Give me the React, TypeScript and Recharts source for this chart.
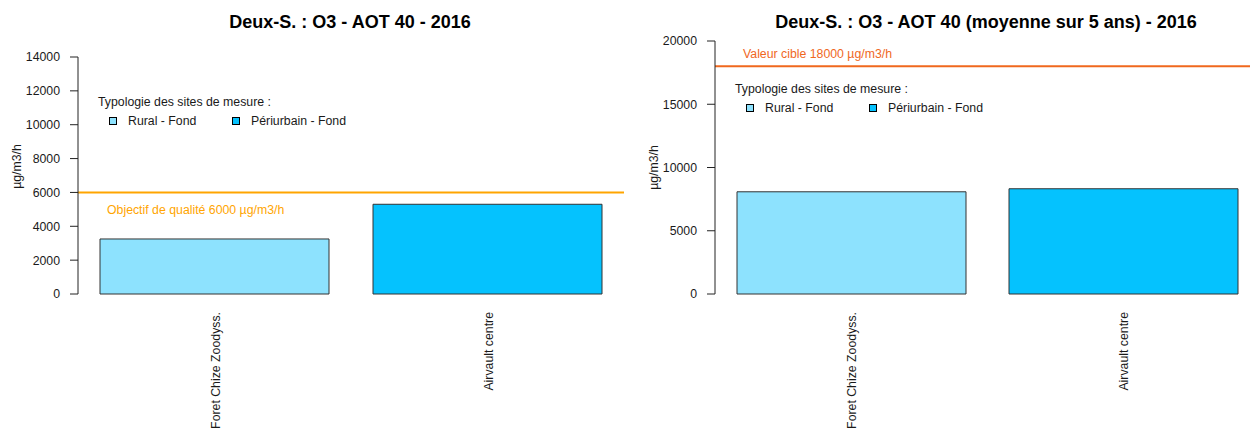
import React from 'react';
import { BarChart, Bar, XAxis, YAxis, ReferenceLine, Cell } from 'recharts';

// ---- data ----
const sites = ['Foret Chize Zoodyss.', 'Airvault centre'];
const siteTypology = [0, 1];
const aot40Year = [3250, 5300];
const aot40FiveYears = [8080, 8320];
const typologies = ['Rural - Fond', 'Périurbain - Fond'];
const yTicksYear = [0, 2000, 4000, 6000, 8000, 10000, 12000, 14000];
const yTicksFive = [0, 5000, 10000, 15000, 20000];
const titleYear = 'Deux-S. : O3 - AOT 40 - 2016';
const titleFive = 'Deux-S. : O3 - AOT 40 (moyenne sur 5 ans) - 2016';
const objectifValue = 6000;
const objectifText = 'Objectif de qualité 6000 µg/m3/h';
const cibleValue = 18000;
const cibleText = 'Valeur cible 18000 µg/m3/h';
const legendTitle = 'Typologie des sites de mesure :';
const unitLabel = 'µg/m3/h';

// ---- styles ----
const FONT = '"Liberation Sans", Arial, Helvetica, sans-serif';
const FS = 12.3;
const typologyColors = ['#8DE2FE', '#05C2FE'];
const TEXT = '#1a1a1a';

const yearData = sites.map((s, i) => ({ site: s, value: aot40Year[i], typ: siteTypology[i] }));
const fiveData = sites.map((s, i) => ({ site: s, value: aot40FiveYears[i], typ: siteTypology[i] }));

const XTick = (props: any) => {
  const { x, y, payload } = props;
  const tx = x + 1;
  const ty = y + 18;
  return (
    <text
      x={tx}
      y={ty}
      transform={`rotate(-90, ${tx}, ${ty})`}
      textAnchor="end"
      dy="0.35em"
      fontSize={FS}
      fontFamily={FONT}
      fill={TEXT}
    >
      {payload.value}
    </text>
  );
};

type PanelProps = {
  left: number;
  width: number;
  title: string;
  titleCenter: number;
  data: any[];
  ticks: number[];
  yMax: number;
  marginTop: number;
  marginLeft: number;
  refValue: number;
  refColor: string;
  refText: string;
  refDx: number;
  refDy: number;
  unitDy: number;
  legendLeft: number;
  legendTop: number;
};

const Panel = (p: PanelProps) => {
  return (
    <div style={{ position: 'absolute', left: p.left, top: 0, width: p.width, height: 428 }}>
      <div
        style={{
          position: 'absolute',
          left: p.titleCenter - p.left - 320,
          width: 640,
          top: 13,
          textAlign: 'center',
          fontFamily: FONT,
          fontWeight: 'bold',
          fontSize: 18,
          lineHeight: '18px',
          color: '#000',
          whiteSpace: 'nowrap',
        }}
      >
        {p.title}
      </div>
      <BarChart
        width={p.width}
        height={428}
        data={p.data}
        margin={{ top: p.marginTop, right: 1, left: p.marginLeft, bottom: 0 }}
        style={{ position: 'absolute', left: 0, top: 0 }}
      >
        <XAxis
          dataKey="site"
          axisLine={false}
          tickLine={false}
          tickSize={0}
          tickMargin={0}
          height={134}
          interval={0}
          tick={<XTick />}
        />
        <YAxis
          type="number"
          domain={[0, p.yMax]}
          ticks={p.ticks}
          width={60}
          tickSize={8}
          tickMargin={10}
          stroke="#222"
          axisLine={{ stroke: '#222' }}
          tickLine={{ stroke: '#222' }}
          tick={{ fontSize: FS, fontFamily: FONT, fill: TEXT }}
          label={(lp: any) => {
            const vb = lp.viewBox || {};
            const lx = vb.x + 3;
            const ly = vb.y + vb.height / 2 + p.unitDy;
            return (
              <text
                x={lx}
                y={ly}
                transform={`rotate(-90, ${lx}, ${ly})`}
                textAnchor="middle"
                fontSize={FS}
                fontFamily={FONT}
                fill={TEXT}
              >
                {unitLabel}
              </text>
            );
          }}
        />
        <Bar dataKey="value" barSize={229} stroke="#333" strokeWidth={1} isAnimationActive={false}>
          {p.data.map((d: any, i: number) => (
            <Cell key={i} fill={typologyColors[d.typ]} />
          ))}
        </Bar>
        <ReferenceLine
          y={p.refValue}
          stroke={p.refColor}
          strokeWidth={2}
          label={(lp: any) => {
            const vb = lp.viewBox || {};
            return (
              <text
                x={vb.x + p.refDx}
                y={vb.y + p.refDy}
                fontSize={FS}
                fontFamily={FONT}
                fill={p.refColor}
              >
                {p.refText}
              </text>
            );
          }}
        />
      </BarChart>
      <div
        style={{
          position: 'absolute',
          left: p.legendLeft - p.left,
          top: p.legendTop,
          fontFamily: FONT,
          fontSize: FS,
          color: TEXT,
          whiteSpace: 'nowrap',
        }}
      >
        <div style={{ height: 14, lineHeight: '14px' }}>{legendTitle}</div>
        <div style={{ position: 'relative', height: 14, marginTop: 5 }}>
          {typologies.map((t, i) => (
            <div key={t} style={{ position: 'absolute', left: 11 + i * 123, top: 0, height: 14 }}>
              <div
                style={{
                  position: 'absolute',
                  left: 0,
                  top: 3,
                  width: 8,
                  height: 8,
                  boxSizing: 'border-box',
                  border: '1px solid #000',
                  background: typologyColors[i],
                }}
              />
              <div style={{ position: 'absolute', left: 19, top: 0, lineHeight: '14px' }}>{t}</div>
            </div>
          ))}
        </div>
      </div>
    </div>
  );
};

export default function App() {
  return (
    <div
      style={{
        position: 'absolute',
        left: 0,
        top: 0,
        width: 1250,
        height: 428,
        overflow: 'hidden',
        background: '#fff',
      }}
    >
      <Panel
        left={0}
        width={625}
        title={titleYear}
        titleCenter={350}
        data={yearData}
        ticks={yTicksYear}
        yMax={14000}
        marginTop={57}
        marginLeft={18}
        refValue={objectifValue}
        refColor="#FFA500"
        refText={objectifText}
        refDx={29}
        refDy={22}
        unitDy={-9}
        legendLeft={98}
        legendTop={95}
      />
      <Panel
        left={625}
        width={635}
        title={titleFive}
        titleCenter={986}
        data={fiveData}
        ticks={yTicksFive}
        yMax={20000}
        marginTop={41}
        marginLeft={30}
        refValue={cibleValue}
        refColor="#F0681E"
        refText={cibleText}
        refDx={28}
        refDy={-8}
        unitDy={0}
        legendLeft={735}
        legendTop={82}
      />
    </div>
  );
}
